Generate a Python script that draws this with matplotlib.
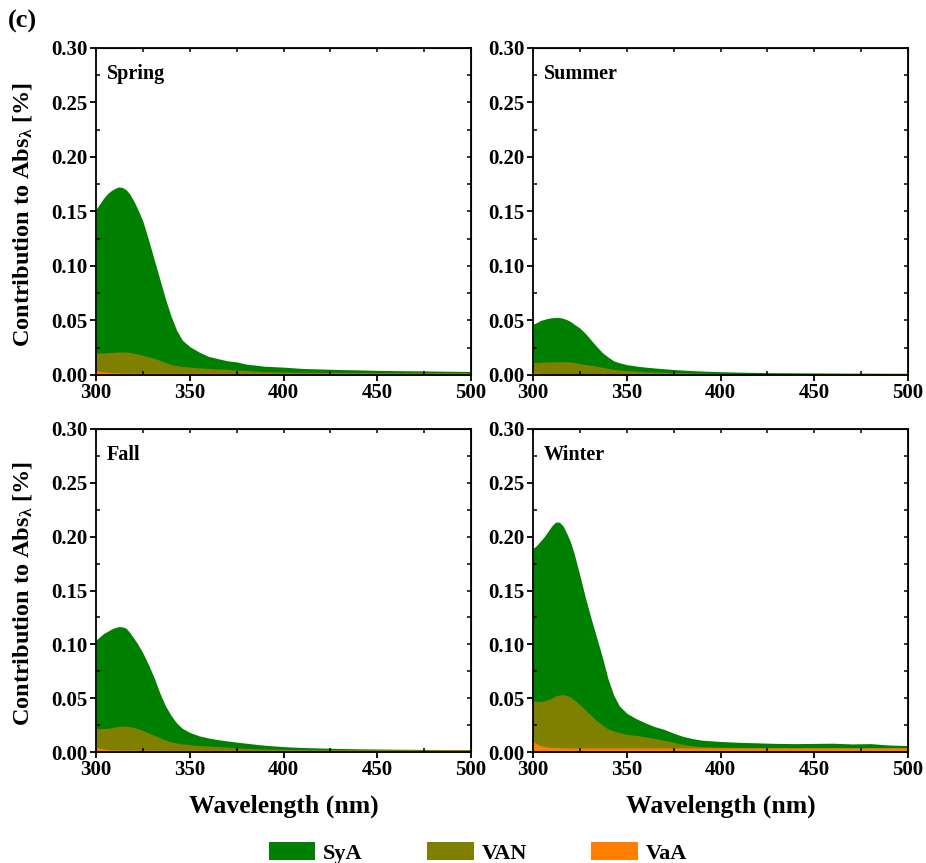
import matplotlib.pyplot as plt
from matplotlib.patches import Patch

plt.rcParams['font.family'] = 'Liberation Serif'
plt.rcParams['font.weight'] = 'bold'
plt.rcParams['mathtext.fontset'] = 'custom'
plt.rcParams['mathtext.rm'] = 'Liberation Serif:bold'
plt.rcParams['mathtext.it'] = 'Liberation Serif:bold'
plt.rcParams['mathtext.bf'] = 'Liberation Serif:bold'

# wavelength grid (nm)
wl = [300, 302, 304, 306, 308, 310, 312, 314, 316, 318, 320, 322, 325, 328, 331, 334, 337, 340, 343, 346,
      350, 355, 360, 365, 370, 375, 380, 385, 390, 400, 410, 420, 430, 440, 450, 460, 470, 480, 490, 500]

# cumulative curves: top of SyA (total), top of VAN, top of VaA
spring_sya = [.152, .157, .162, .166, .169, .171, .1725, .172, .170, .166, .160, .153, .141, .124, .106, .088, .070, .054, .041, .032,
              .026, .021, .017, .015, .013, .012, .010, .009, .008, .0072, .006, .0055, .005, .0047, .0042, .004, .0038, .0036, .0034, .0032]
spring_van = [.0199, .020, .0202, .0204, .0206, .0208, .021, .021, .021, .0207, .020, .0193, .018, .0165, .0152, .0135, .0115, .0097, .0086, .0078,
              .0073, .0065, .006, .0055, .0052, .0045, .004, .0035, .003, .0027, .0025, .0024, .0023, .0022, .0022, .0021, .0021, .002, .002, .002]
spring_vaa = [.004, .0033, .0028, .0024, .0022, .002, .0019, .0018, .0018, .0018, .0018, .0017, .0017, .0017, .0017, .0016, .0016, .0016, .0016, .0016,
              .0015, .0015, .0015, .0015, .0015, .0015, .0015, .0015, .0015, .0015, .0015, .0015, .0015, .0015, .0015, .0015, .0015, .0015, .0015, .0015]

summer_sya = [.0468, .048, .050, .051, .052, .0525, .0527, .0527, .052, .0508, .049, .0465, .043, .038, .032, .026, .0205, .0165, .013, .0112,
              .0095, .0082, .0072, .0064, .0057, .005, .0045, .004, .0036, .003, .0026, .0023, .0021, .002, .0019, .0018, .0017, .0017, .0016, .0016]
summer_van = [.0113, .0114, .0116, .0118, .0119, .012, .0121, .0122, .0122, .0121, .012, .0113, .0105, .0096, .0088, .008, .007, .006, .0052, .0045,
              .004, .0035, .003, .0027, .0025, .0022, .002, .0018, .0017, .0015, .0014, .0013, .0013, .0012, .0012, .0012, .0012, .0012, .0012, .0012]
summer_vaa = [.002, .0017, .0014, .0012, .0011, .001, .001, .001, .001, .001, .001, .001, .0009, .0009, .0009, .0009, .0009, .0009, .0009, .0009,
              .0009, .0009, .0009, .0009, .0009, .0009, .0009, .0009, .0009, .0009, .0009, .0009, .0009, .0009, .0009, .0009, .0009, .0009, .0009, .0009]

fall_sya = [.104, .107, .110, .112, .114, .1155, .1165, .1163, .115, .111, .106, .101, .092, .081, .069, .055, .043, .034, .027, .022,
            .0182, .015, .013, .0115, .0103, .0092, .0082, .0072, .0063, .005, .0042, .0037, .0033, .003, .0028, .0026, .0025, .0024, .0022, .0022]
fall_van = [.0219, .0217, .0218, .022, .0225, .0232, .0238, .024, .024, .0235, .0228, .0218, .020, .0177, .0155, .0132, .0112, .0095, .0083, .0075,
            .0068, .006, .0055, .005, .0045, .004, .0035, .003, .0028, .0025, .0022, .0021, .0021, .002, .002, .002, .002, .002, .002, .002]
fall_vaa = [.0043, .0035, .0028, .0024, .0022, .002, .0019, .0018, .0018, .0018, .0017, .0017, .0017, .0017, .0017, .0017, .0016, .0016, .0016, .0016,
            .0016, .0016, .0016, .0016, .0016, .0016, .0016, .0016, .0016, .0016, .0016, .0016, .0016, .0016, .0016, .0016, .0016, .0016, .0016, .0016]

winter_sya = [.189, .192, .196, .200, .205, .210, .2135, .2135, .210, .203, .195, .184, .164, .143, .124, .106, .088, .068, .053, .043,
              .036, .031, .027, .0235, .021, .0175, .0145, .0125, .011, .0098, .009, .0085, .008, .0078, .008, .0082, .0075, .0078, .0065, .006]
winter_van = [.0476, .047, .047, .0475, .0485, .050, .052, .053, .0532, .0525, .051, .0485, .044, .039, .034, .029, .025, .0215, .0195, .018,
              .0165, .0155, .0142, .0125, .011, .009, .007, .0058, .005, .0045, .0043, .0042, .0042, .0042, .0042, .0042, .0042, .0042, .0042, .0042]
winter_vaa = [.0098, .0075, .006, .005, .0046, .0043, .0041, .004, .0039, .0038, .0038, .0038, .0038, .0038, .0038, .0038, .0038, .0038, .0038, .0038,
              .0038, .0038, .0038, .0038, .0038, .0038, .0038, .0038, .0038, .0038, .0038, .0038, .0038, .0038, .0038, .0038, .0038, .0038, .0038, .0038]

seasons = ['Spring', 'Summer', 'Fall', 'Winter']
curves = {
    'Spring': (spring_sya, spring_van, spring_vaa),
    'Summer': (summer_sya, summer_van, summer_vaa),
    'Fall': (fall_sya, fall_van, fall_vaa),
    'Winter': (winter_sya, winter_van, winter_vaa),
}
species = ['SyA', 'VAN', 'VaA']
colors = ['#008000', '#808000', '#ff8000']

fig = plt.figure(figsize=(9.26, 8.63), dpi=100)
positions = [
    [0.1037, 0.5655, 0.405, 0.379],
    [0.5756, 0.5655, 0.405, 0.379],
    [0.1037, 0.1286, 0.405, 0.3743],
    [0.5756, 0.1286, 0.405, 0.3743],
]

major_x = [300, 350, 400, 450, 500]
minor_x = [325, 375, 425, 475]
major_y = [0, 0.05, 0.10, 0.15, 0.20, 0.25, 0.30]
minor_y = [0.025, 0.075, 0.125, 0.175, 0.225, 0.275]

for i, season in enumerate(seasons):
    ax = fig.add_axes(positions[i])
    for top, c in zip(curves[season], colors):
        ax.fill_between(wl, 0, top, color=c, lw=0)
    ax.set_xlim(300, 500)
    ax.set_ylim(0, 0.30)
    ax.set_xticks(major_x)
    ax.set_yticks(major_y)
    ax.set_yticklabels(['%.2f' % v for v in major_y])
    ax.set_xticks(minor_x, minor=True)
    ax.set_yticks(minor_y, minor=True)
    ax.tick_params(which='major', direction='out', length=4, width=1.3, labelsize=15, pad=2)
    ax.tick_params(which='minor', direction='in', length=3, width=1.1)
    for s in ax.spines.values():
        s.set_linewidth(1.3)
    # mirrored ticks on top and right, pointing inwards
    top = ax.secondary_xaxis('top')
    top.set_xticks(major_x)
    top.set_xticks(minor_x, minor=True)
    top.tick_params(which='both', direction='in', length=3, width=1.1, labeltop=False)
    right = ax.secondary_yaxis('right')
    right.set_yticks(major_y)
    right.set_yticks(minor_y, minor=True)
    right.tick_params(which='both', direction='in', length=3, width=1.1, labelright=False)
    ax.text(0.029, 0.95, season, transform=ax.transAxes, fontsize=14.5, fontweight='bold',
            ha='left', va='top')
    if i % 2 == 0:
        ax.set_ylabel(r'Contribution to Abs$_\lambda$ [%]', fontsize=17.5, fontweight='bold')
        ax.yaxis.set_label_coords(-0.165, 0.49)
    if i >= 2:
        ax.set_xlabel('Wavelength (nm)', fontsize=18.5, fontweight='bold', labelpad=10)

fig.text(0.009, 0.988, '(c)', fontsize=19, fontweight='bold', ha='left', va='top')

handles = [Patch(facecolor=c, edgecolor='none', label=s) for s, c in zip(species, colors)]
fig.legend(handles=handles, loc='lower center', bbox_to_anchor=(0.516, -0.024), ncol=3, frameon=False,
           fontsize=16, handlelength=2.1, handleheight=0.9, columnspacing=2.9, handletextpad=0.35)

fig.savefig('out.png', dpi=100)
